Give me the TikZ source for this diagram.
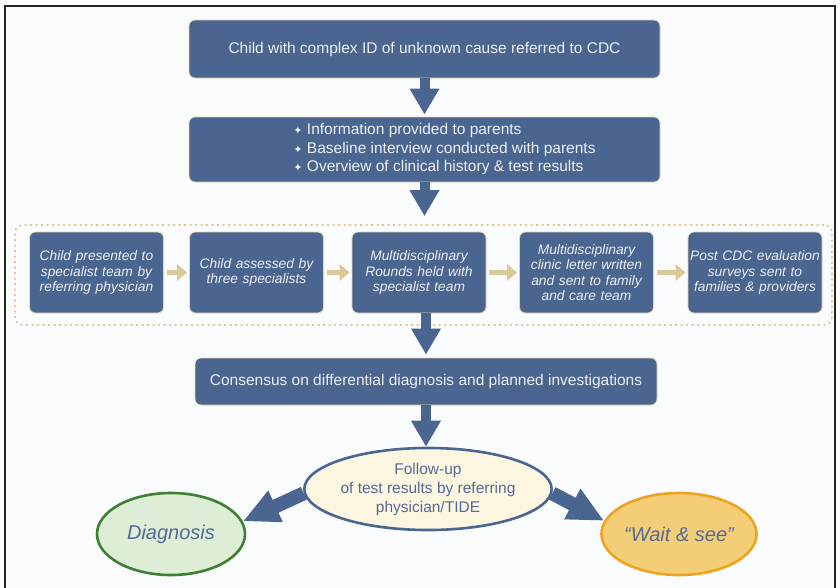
\documentclass[tikz,border=0pt]{standalone}
\usepackage{fontspec}
\setmainfont{Liberation Sans}
\newfontfamily\symfont{DejaVu Sans}
\usetikzlibrary{shapes.geometric, arrows.meta, positioning}

\definecolor{boxblue}{RGB}{74,101,143}
\definecolor{boxedge}{RGB}{232,214,170}
\definecolor{boxtext}{RGB}{236,239,244}
\definecolor{linktan}{RGB}{217,200,152}
\definecolor{dotline}{RGB}{226,200,140}
\definecolor{creamfill}{RGB}{252,246,224}
\definecolor{greenfill}{RGB}{221,237,214}
\definecolor{greenedge}{RGB}{62,127,50}
\definecolor{goldfill}{RGB}{244,206,118}
\definecolor{goldedge}{RGB}{236,164,34}
\definecolor{labelblue}{RGB}{84,106,150}
\definecolor{paper}{RGB}{250,251,253}

\tikzstyle{topbox} = [rectangle, rounded corners=6pt, minimum width=471pt, draw=boxedge, line width=0.8pt, fill=boxblue, text=boxtext, font=\fontsize{15.5}{18.5}\selectfont, inner sep=0pt]
\tikzstyle{stagebox} = [rectangle, rounded corners=6pt, minimum width=134pt, minimum height=81pt, text width=132pt, align=center, draw=boxedge, line width=0.8pt, fill=boxblue, text=boxtext, font=\fontsize{13.8}{15.2}\selectfont\itshape, inner sep=1pt]
\tikzstyle{outcome} = [ellipse, minimum width=148pt, minimum height=82pt, line width=2.6pt, text=labelblue, font=\fontsize{20}{23}\selectfont\itshape, inner sep=0pt]
\tikzstyle{bigarrow} = [line width=10pt, -{Triangle[length=26pt, width=28pt]}, color=boxblue]
\tikzstyle{fatarrow} = [line width=14pt, -{Triangle[length=36pt, width=32pt]}, color=boxblue]
\tikzstyle{linkarrow} = [line width=5pt, -{Triangle[length=10pt, width=16pt]}, color=linktan, shorten <=3pt, shorten >=2pt]

\newcommand{\pointmark}{{\symfont\fontsize{11}{11}\selectfont ✦}\ }

\begin{document}
\begin{tikzpicture}[x=1pt, y=-1pt, node distance=100pt]
\useasboundingbox (0,0) rectangle (840,587);
\fill[white] (0,0) rectangle (840,587);
\draw[draw=black!85, fill=paper, line width=1.4pt] (5,6) rectangle (835,600);

% dotted frame round the clinic day
\node (rounds) [draw=dotline, line width=1.6pt, dash pattern=on 2pt off 3.5pt, rounded corners=8pt, minimum width=817pt, minimum height=100pt] at (423.5,275) {};

\node (start) [topbox, minimum height=58pt] at (424.5,49) {Child with complex ID of unknown cause referred to CDC};
\node (info) [topbox, minimum height=65pt, below of=start, yshift=-0.5pt] {\hspace*{40pt}\begin{tabular}{@{}l@{}}
\pointmark Information provided to parents\\
\pointmark Baseline interview conducted with parents\\
\pointmark Overview of clinical history \& test results
\end{tabular}};

\node (held) [stagebox, below of=info, yshift=-23pt, xshift=-5.5pt] {Multidisciplinary\\Rounds held with\\specialist team};
\node (assessed) [stagebox, left of=held, xshift=-62.5pt] {Child assessed by\\three specialists};
\node (presented) [stagebox, left of=assessed, xshift=-60pt] {Child presented to\\specialist team by\\referring physician};
\node (letter) [stagebox, right of=held, xshift=67.5pt] {Multidisciplinary\\clinic letter written\\and sent to family\\and care team};
\node (survey) [stagebox, right of=letter, xshift=68.5pt] {Post CDC evaluation\\surveys sent to\\families \& providers};

\node (cons) [topbox, minimum width=462pt, minimum height=47pt, below of=held, yshift=-9pt, xshift=7pt] {Consensus on differential diagnosis and planned investigations};

% outcomes
\node (follow) [ellipse, draw=boxblue, fill=creamfill, line width=2.6pt, minimum width=216pt, minimum height=82pt, inner sep=0pt, align=center, text=labelblue, font=\fontsize{15.5}{19}\selectfont, below of=cons, yshift=-7.5pt, xshift=2pt] {Follow-up\\of test results by referring\\physician/TIDE};
\node (diag) [outcome, draw=greenedge, fill=greenfill, left of=follow, xshift=-157pt, yshift=-45pt] {Diagnosis};
\node (wait) [outcome, draw=goldedge, fill=goldfill, right of=follow, xshift=151pt, yshift=-45pt] {``Wait \& see''};

\draw [bigarrow, shorten >=2pt] (start.south) -- (info.north);
\draw [bigarrow, shorten >=8pt] (info.south) -- (info.south |- rounds.north);
\draw [linkarrow] (presented) -- (assessed);
\draw [linkarrow] (assessed) -- (held);
\draw [linkarrow] (held) -- (letter);
\draw [linkarrow] (letter) -- (survey);
\draw [bigarrow, shorten >=3pt] (held.south -| cons.north) -- (cons.north);
\draw [bigarrow] (cons.south) -- (cons.south |- follow.north);
\draw [fatarrow] (follow.182) -- (diag.10);
\draw [fatarrow] (follow.-2) -- (wait.170);
\end{tikzpicture}
\end{document}
